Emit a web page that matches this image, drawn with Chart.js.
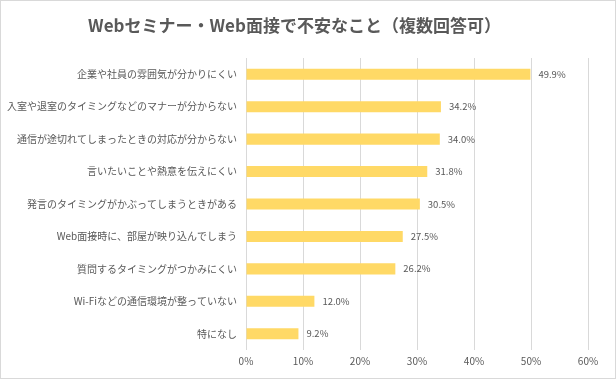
<!DOCTYPE html>
<html lang="ja">
<head>
<meta charset="UTF-8">
<title>Webセミナー・Web面接で不安なこと</title>
<script src="https://cdn.jsdelivr.net/npm/chart.js@4"></script>
<style>
  html, body { margin: 0; padding: 0; background: #fff; }
  #wrap {
    width: 616px;
    height: 379px;
    box-sizing: border-box;
    border: 1px solid #d9d9d9;
  }
  #chart { display: block; }
</style>
</head>
<body>
<div id="wrap"><canvas id="chart" width="614" height="377"></canvas></div>
<script>
const categories = [
  '企業や社員の雰囲気が分かりにくい',
  '入室や退室のタイミングなどのマナーが分からない',
  '通信が途切れてしまったときの対応が分からない',
  '言いたいことや熱意を伝えにくい',
  '発言のタイミングがかぶってしまうときがある',
  'Web面接時に、部屋が映り込んでしまう',
  '質問するタイミングがつかみにくい',
  'Wi-Fiなどの通信環境が整っていない',
  '特になし'
];
const values = [49.9, 34.2, 34.0, 31.8, 30.5, 27.5, 26.2, 12.0, 9.2];
const xTicks = [0, 10, 20, 30, 40, 50, 60];

const textColor = '#595959';
const fontFamily = '"Noto Sans CJK JP", "Noto Sans", sans-serif';

// data labels next to each bar
const barLabels = {
  id: 'barLabels',
  afterDatasetsDraw(chart) {
    const ctx = chart.ctx;
    const meta = chart.getDatasetMeta(0);
    ctx.save();
    ctx.font = '9.5px ' + fontFamily;
    ctx.fillStyle = textColor;
    ctx.textAlign = 'left';
    ctx.textBaseline = 'middle';
    meta.data.forEach((bar, i) => {
      ctx.fillText(values[i].toFixed(1) + '%', bar.x + 8, bar.y);
    });
    ctx.restore();
  }
};

new Chart(document.getElementById('chart'), {
  type: 'bar',
  data: {
    labels: categories,
    datasets: [{
      data: values,
      backgroundColor: '#FFD966',
      borderWidth: 0,
      categoryPercentage: 1,
      barPercentage: 0.34
    }]
  },
  options: {
    indexAxis: 'y',
    responsive: false,
    animation: false,
    layout: { padding: { left: 0, right: 27, top: 0, bottom: 0 } },
    plugins: {
      legend: { display: false },
      tooltip: { enabled: false },
      title: {
        display: true,
        text: 'Webセミナー・Web面接で不安なこと（複数回答可）',
        color: textColor,
        font: { family: fontFamily, size: 17, weight: 'bold', lineHeight: 1.2 },
        padding: { top: 14, bottom: 22.6 }
      }
    },
    scales: {
      x: {
        min: 0,
        max: 60,
        afterBuildTicks(scale) {
          scale.ticks = xTicks.map(v => ({ value: v }));
        },
        afterFit(scale) { scale.height = 28; },
        grid: { color: '#d9d9d9', drawTicks: false },
        border: { display: false },
        ticks: {
          color: textColor,
          padding: 5,
          font: { family: fontFamily, size: 10 },
          callback: v => v + '%'
        }
      },
      y: {
        afterFit(scale) { scale.width = 245; },
        grid: { display: false, drawTicks: false },
        border: { display: false },
        ticks: {
          color: textColor,
          padding: 9,
          autoSkip: false,
          font: { family: fontFamily, size: 10 }
        }
      }
    }
  },
  plugins: [barLabels]
});
</script>
</body>
</html>
